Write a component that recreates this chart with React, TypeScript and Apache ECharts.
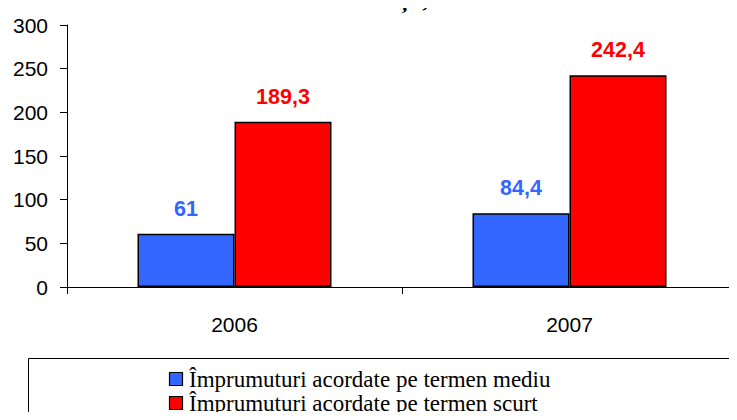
import React, { useEffect, useRef } from "react";
import * as echarts from "echarts";

const categories = ["2006", "2007"];
const seriesNames = [
  "Împrumuturi acordate pe termen mediu",
  "Împrumuturi acordate pe termen scurt",
];
const mediumValues = [61, 84.4];
const shortValues = [189.3, 242.4];
const colors = ["#3366FF", "#FF0000"];
const titleText = "de către asociații, mii lei";

const SERIF = "Liberation Serif";
const SANS = "Liberation Sans";

const fmt = (v: number) => String(v).replace(".", ",");

export default function App() {
  const ref = useRef<HTMLDivElement>(null);
  useEffect(() => {
    if (!ref.current) return;
    const chart = echarts.init(ref.current, undefined, { renderer: "svg" });
    const mk = (name: string, data: number[], color: string) => ({
      name,
      type: "bar",
      data,
      barWidth: 97,
      barGap: "0%",
      itemStyle: { color, borderColor: "#000", borderWidth: 1.5 },
      label: {
        show: true,
        position: "top",
        distance: 14,
        color,
        fontFamily: SANS,
        fontWeight: "bold",
        fontSize: 21.5,
        formatter: (p: any) => fmt(p.value),
      },
    });
    const legendItems = seriesNames.flatMap((name, i) => [
      {
        type: "rect",
        shape: { x: 169.5, y: 372.5 + i * 24, width: 13, height: 13 },
        style: { fill: colors[i], stroke: "#000", lineWidth: 1.2 },
      },
      {
        type: "text",
        x: 189,
        y: 379 + i * 24,
        style: {
          text: name,
          fill: "#000",
          fontSize: 23,
          fontFamily: SERIF,
          verticalAlign: "middle",
        },
      },
    ]);
    chart.setOption({
      animation: false,
      backgroundColor: "#fff",
      grid: { left: 67, right: -6, top: 25, bottom: 133, containLabel: false },
      xAxis: {
        type: "category",
        data: categories,
        axisLine: { lineStyle: { color: "#000", width: 1 } },
        axisTick: { show: true, length: 7, lineStyle: { color: "#000" } },
        axisLabel: {
          color: "#000",
          fontFamily: SANS,
          fontSize: 21,
          margin: 27,
        },
      },
      yAxis: {
        type: "value",
        min: 0,
        max: 300,
        interval: 50,
        splitLine: { show: false },
        axisLine: { show: true, lineStyle: { color: "#000", width: 1 } },
        axisTick: { show: true, length: 7, lineStyle: { color: "#000" } },
        axisLabel: {
          color: "#000",
          fontFamily: SANS,
          fontSize: 21,
          margin: 19,
        },
      },
      graphic: [
        {
          type: "rect",
          shape: { x: 28.5, y: 358.5, width: 720, height: 80 },
          style: { fill: "none", stroke: "#000", lineWidth: 1 },
          z: 0,
        },
        {
          type: "text",
          x: 373,
          y: -15,
          style: {
            text: titleText,
            fill: "#000",
            fontStyle: "italic",
            fontWeight: "bold",
            fontSize: 26,
            fontFamily: SERIF,
            align: "center",
            verticalAlign: "top",
          },
        },
        ...legendItems,
      ],
      series: [
        mk(seriesNames[0], mediumValues, colors[0]),
        mk(seriesNames[1], shortValues, colors[1]),
      ],
    });
    return () => chart.dispose();
  }, []);
  return <div ref={ref} style={{ width: 737, height: 420, margin: -8 }} />;
}
